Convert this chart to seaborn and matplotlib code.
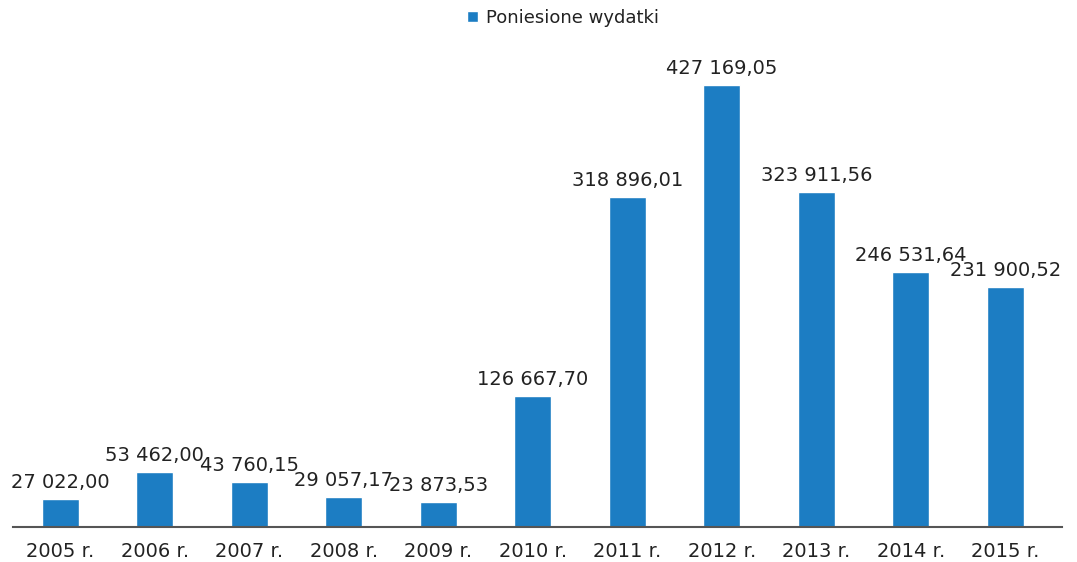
import matplotlib
matplotlib.use("Agg")
import matplotlib.pyplot as plt
import seaborn as sns

# chart data

years = ["2005 r.", "2006 r.", "2007 r.", "2008 r.", "2009 r.", "2010 r.",
         "2011 r.", "2012 r.", "2013 r.", "2014 r.", "2015 r."]
expenses = [27022.00, 53462.00, 43760.15, 29057.17, 23873.53, 126667.70,
            318896.01, 427169.05, 323911.56, 246531.64, 231900.52]
series_name = "Poniesione wydatki"

bar_color = "#1c7dc3"
text_color = "#222222"


def pl_format(v):
    s = f"{v:,.2f}"
    return s.replace(",", " ").replace(".", ",")


sns.set_style("white")
plt.rcParams['font.family'] = ['DejaVu Sans']

fig = plt.figure(figsize=(10.77, 5.62), dpi=100)
ax = fig.add_axes([13 / 1077, 35 / 562, 1049 / 1077, 487 / 562])

sns.barplot(x=years, y=expenses, color=bar_color, width=0.39,
            saturation=1, label=series_name, ax=ax)

# value labels above bars
for i, v in enumerate(expenses):
    ax.annotate(pl_format(v), (i, v), xytext=(0, 5), textcoords="offset points",
                ha="center", va="bottom", fontsize=14, color=text_color)

ax.set_xlim(-0.5, 10.6)
ax.set_ylim(0, 470700)
ax.set_yticks([])
ax.set_xlabel("")
ax.set_ylabel("")
for side in ["top", "right", "left"]:
    ax.spines[side].set_visible(False)
ax.spines["bottom"].set_color("#555555")
ax.spines["bottom"].set_linewidth(1.5)
ax.tick_params(axis="x", length=0, pad=11, labelsize=14, labelcolor=text_color)

leg = ax.legend(loc="center", bbox_to_anchor=(550 / 1049, 1 + (527 - 18 - 487) / 487),
                frameon=False, fontsize=13, handlelength=0.6, handleheight=0.6,
                handletextpad=0.4)
for t in leg.get_texts():
    t.set_color(text_color)

fig.savefig("out.png", dpi=100)
